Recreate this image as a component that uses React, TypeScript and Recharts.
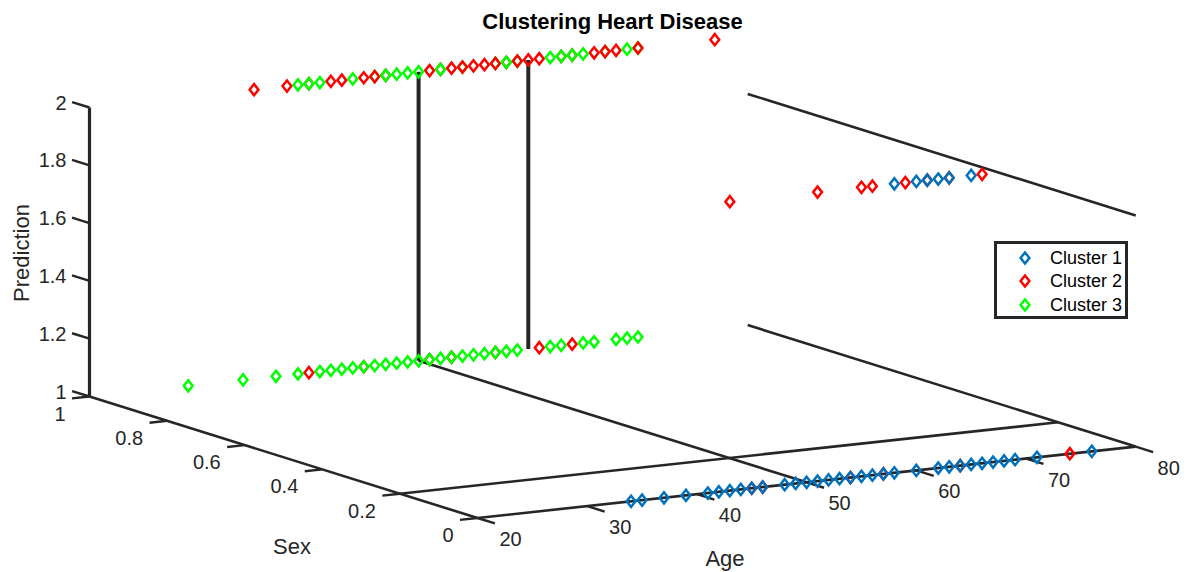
/**
 * Clustering Heart Disease - 3D scatter flattened onto a Recharts chart
 */

import React from 'react';
import {
  ScatterChart,
  Scatter,
  XAxis,
  YAxis,
  ReferenceLine,
  Legend,
} from 'recharts';

const clusterNames = ['Cluster 1', 'Cluster 2', 'Cluster 3'];
const clusterColors = ['#0072BD', '#FF0000', '#00FF00'];

// ages per row: sex 1 is the back row, sex 0 the front row
const c1Sex0Pred1 = [34, 35, 37, 39, 41, 42, 43, 44, 45, 46, 48, 49, 50, 51, 52, 53, 54, 55, 56, 57, 58, 60, 62, 63, 64, 65, 66, 67, 68, 69, 71, 76];
const c2Sex0Pred1 = [45, 46, 54, 57, 64, 74];
const c1Sex0Pred2 = [58, 60, 61, 62, 63, 65];
const c2Sex0Pred2 = [43, 51, 55, 56, 59, 61, 63, 66];
const c2Sex1Pred1 = [40, 45, 51, 53, 57, 61, 64];
const c3Sex1Pred1 = [29, 34, 37, 39, 41, 42, 43, 44, 45, 46, 47, 48, 49, 50, 51, 52, 53, 54, 55, 56, 57, 58, 59, 62, 63, 65, 66, 68, 69, 70];
const c2Sex1Pred2 = [35, 38, 40, 42, 43, 45, 46, 47, 51, 52, 53, 54, 55, 56, 57, 58, 59, 60, 61, 63, 64, 66, 67, 68, 70, 77];
// the back top row overlaps both ways, so cluster 3 comes in two draw passes
const c3Sex1Pred2Under = [46, 54, 57, 59, 67, 70];
const c3Sex1Pred2Over = [39, 40, 41, 44, 47, 48, 49, 50, 52, 58, 62, 63, 64, 65, 69];

const ageTicks = [20, 30, 40, 50, 60, 70, 80];
const sexTicks = [0, 0.2, 0.4, 0.6, 0.8, 1];
const predTicks = [1, 1.2, 1.4, 1.6, 1.8, 2];

const INK = '#262626';

// view projection: age, sex, prediction -> chart x, y
const project = (age: number, sex: number, pred: number) => ({
  x: 89.5 + 10.97 * (age - 20) + 388 * (1 - sex),
  y: 396.5 - 1.19 * (age - 20) + 121.5 * (1 - sex) - 289 * (pred - 1),
});

const row = (ages: number[], sex: number, pred: number) => ages.map((a) => project(a, sex, pred));

const Diamond = (props: any) => {
  const { cx, cy, fill } = props;
  return (
    <path
      d={`M${cx},${cy - 5.6}L${cx + 4.4},${cy}L${cx},${cy + 5.6}L${cx - 4.4},${cy}Z`}
      fill="none"
      stroke={fill}
      strokeWidth={2.5}
    />
  );
};

const makeLabel = (anchor: string, size = 20, weight = 400, color = INK, rotate = 0) => (props: any) => {
  const { cx, cy, payload } = props;
  return (
    <text
      x={cx}
      y={cy}
      textAnchor={anchor as any}
      dominantBaseline="central"
      fontFamily="'Liberation Sans', Arial, sans-serif"
      fontSize={size}
      fontWeight={weight}
      fill={color}
      transform={rotate ? `rotate(${rotate} ${cx} ${cy})` : undefined}
    >
      {payload.text}
    </text>
  );
};

const shifted = (p: { x: number; y: number }, dx: number, dy: number) => ({ x: p.x + dx, y: p.y + dy });

const ageLabels = ageTicks.map((a) => ({ ...shifted(project(a, 0, 1), 33, 21), text: String(a) }));
const sexLabels = sexTicks.map((s) => ({ ...shifted(project(20, s, 1), -24, 17), text: String(s) }));
const predLabels = predTicks.map((p) => ({ ...shifted(project(20, 1, p), -23, -5), text: String(p) }));

const segments: { a: number[]; b: number[]; w: number }[] = [
  // prediction axis
  { a: [20, 1, 1], b: [20, 1, 2], w: 3.2 },
  // sex axis
  { a: [20, 1, 1], b: [20, 0, 1], w: 2.6 },
  // age axis
  { a: [20, 0, 1], b: [80, 0, 1], w: 2.6 },
  // box pieces
  { a: [20, 0.2, 1], b: [80, 0.2, 1], w: 2.6 },
  { a: [80, 1, 1], b: [80, 0, 1], w: 2.6 },
  { a: [80, 1, 1.8], b: [80, 0, 1.8], w: 2.6 },
  { a: [50, 1, 1], b: [50, 0, 1], w: 2.6 },
  { a: [50, 1, 1], b: [50, 1, 2], w: 4 },
  { a: [60, 1, 1], b: [60, 1, 2], w: 4 },
];

const tickSegments = [
  ...ageTicks.map((a) => ({ a: [a, 0, 1], b: [a, -0.045, 1], w: 2.4 })),
  ...sexTicks.map((s) => ({ a: [20, s, 1], b: [18.4, s, 1], w: 2.4 })),
  ...predTicks.map((p) => ({ a: [20, 1, p], b: [20, 1.045, p], w: 2.4 })),
];

const ClusterLegend = () => (
  <div
    style={{
      width: 134,
      height: 78,
      boxSizing: 'border-box',
      border: `3px solid ${INK}`,
      background: '#fff',
      fontFamily: "'Liberation Sans', Arial, sans-serif",
      fontSize: 18,
      lineHeight: 1,
      color: '#000',
      paddingTop: 2,
    }}
  >
    {clusterNames.map((name, i) => (
      <div key={name} style={{ display: 'flex', alignItems: 'center', height: 23.5 }}>
        <svg width={53} height={20} style={{ flex: 'none' }}>
          <path d="M28,4.4L32.4,10L28,15.6L23.6,10Z" fill="none" stroke={clusterColors[i]} strokeWidth={2.5} />
        </svg>
        <span>{name}</span>
      </div>
    ))}
  </div>
);

const [blue, red, green] = clusterColors;

export default function App() {
  return (
    <div style={{ position: 'absolute', left: 0, top: 0, width: 1190, height: 572, background: '#fff' }}>
      <ScatterChart width={1190} height={572} margin={{ top: 0, right: 0, bottom: 0, left: 0 }}>
        <XAxis type="number" dataKey="x" domain={[0, 1190]} hide />
        <YAxis type="number" dataKey="y" domain={[0, 572]} reversed hide />

        {[...segments, ...tickSegments].map((s, i) => {
          const p1 = project(s.a[0], s.a[1], s.a[2]);
          const p2 = project(s.b[0], s.b[1], s.b[2]);
          return (
            <ReferenceLine
              key={i}
              segment={[p1, p2]}
              stroke={INK}
              strokeWidth={s.w}
              ifOverflow="visible"
            />
          );
        })}

        <Scatter data={row(c2Sex0Pred1, 0, 1)} fill={red} shape={Diamond} isAnimationActive={false} />
        <Scatter data={row(c1Sex0Pred1, 0, 1)} fill={blue} shape={Diamond} isAnimationActive={false} />
        <Scatter data={row(c2Sex0Pred2, 0, 2)} fill={red} shape={Diamond} isAnimationActive={false} />
        <Scatter data={row(c1Sex0Pred2, 0, 2)} fill={blue} shape={Diamond} isAnimationActive={false} />
        <Scatter data={row(c2Sex1Pred1, 1, 1)} fill={red} shape={Diamond} isAnimationActive={false} />
        <Scatter data={row(c3Sex1Pred1, 1, 1)} fill={green} shape={Diamond} isAnimationActive={false} />
        <Scatter data={row(c3Sex1Pred2Under, 1, 2)} fill={green} shape={Diamond} isAnimationActive={false} />
        <Scatter data={row(c2Sex1Pred2, 1, 2)} fill={red} shape={Diamond} isAnimationActive={false} />
        <Scatter data={row(c3Sex1Pred2Over, 1, 2)} fill={green} shape={Diamond} isAnimationActive={false} />

        <Scatter data={ageLabels} shape={makeLabel('middle')} isAnimationActive={false} />
        <Scatter data={sexLabels} shape={makeLabel('end')} isAnimationActive={false} />
        <Scatter data={predLabels} shape={makeLabel('end')} isAnimationActive={false} />

        <Scatter data={[{ x: 612.5, y: 21, text: 'Clustering Heart Disease' }]} shape={makeLabel('middle', 22, 700, '#000')} isAnimationActive={false} />
        <Scatter data={[{ x: 725, y: 558, text: 'Age' }]} shape={makeLabel('middle', 22)} isAnimationActive={false} />
        <Scatter data={[{ x: 292, y: 546, text: 'Sex' }]} shape={makeLabel('middle', 22)} isAnimationActive={false} />
        <Scatter data={[{ x: 21, y: 253, text: 'Prediction' }]} shape={makeLabel('middle', 22, 400, INK, -90)} isAnimationActive={false} />

        <Legend
          layout="vertical"
          align="center"
          verticalAlign="middle"
          content={<ClusterLegend />}
          wrapperStyle={{ left: 994, top: 241, width: 134, height: 78 }}
        />
      </ScatterChart>
    </div>
  );
}
